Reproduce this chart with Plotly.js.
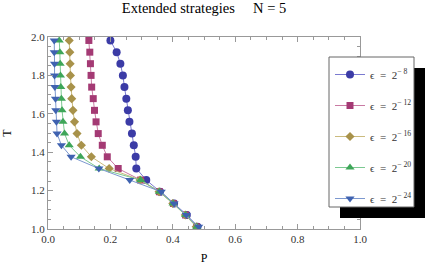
<!DOCTYPE html>
<html><head><meta charset="utf-8">
<script src="https://cdn.plot.ly/plotly-3.0.1.min.js"></script>
<style>html,body{margin:0;padding:0;background:#fff}#c{width:436px;height:273px}</style>
</head><body><div id="c"></div>
<script>
const T = [1.012,1.073,1.133,1.194,1.255,1.315,1.376,1.436,1.497,1.558,1.618,1.679,1.739,1.800,1.861,1.921,1.982];
const p8  = [0.479,0.445,0.404,0.359,0.315,0.283,0.281,0.275,0.269,0.261,0.256,0.251,0.245,0.240,0.232,0.220,0.200];
const p12 = [0.476,0.441,0.402,0.357,0.297,0.225,0.190,0.174,0.161,0.154,0.149,0.145,0.140,0.138,0.136,0.134,0.131];
const p16 = [0.475,0.440,0.400,0.356,0.295,0.196,0.139,0.107,0.093,0.085,0.080,0.076,0.074,0.072,0.071,0.070,0.068];
const p20 = [0.477,0.441,0.401,0.357,0.297,0.164,0.104,0.068,0.053,0.048,0.045,0.043,0.041,0.040,0.039,0.038,0.036];
const p24 = [0.483,0.443,0.404,0.363,0.262,0.163,0.074,0.043,0.029,0.027,0.025,0.024,0.022,0.021,0.021,0.020,0.020];
const exponents = ['8','12','16','20','24'];
const seriesP = [p8,p12,p16,p20,p24];
const markerColors = ['#3b3ba6','#a43a74','#a8924a','#3ea659','#3f62b0'];
const lineColors = ['#7a7ad0','#c97aa3','#cbbb7e','#7cc991','#7c98cf'];
const symbols = ['circle','square','diamond','triangle-up','triangle-down'];
const sizes = [8,7,7,8,8];

const traces = seriesP.map((p,i)=>({
  x:p, y:T, type:'scatter', mode:'lines+markers',
  name:'\u03F5  =  2<sup>\u2212 '+exponents[i]+'</sup>',
  legendgroup:'g'+i,
  line:{color:lineColors[i], width:1},
  marker:{color:markerColors[i], symbol:symbols[i], size:sizes[i], line:{width:0}}
}));

const W=436,H=273,L=48,R=76,Tm=37,B=44;
const pw=W-L-R, ph=H-Tm-B;
const px = v=>(v-L)/pw, py = v=>(H-B-v)/ph;

const axisCommon = {
  showgrid:false, zeroline:false, showline:true, linecolor:'#999', linewidth:1,
  mirror:'ticks', ticks:'inside', ticklen:5, tickcolor:'#999', tickwidth:1,
  tickformat:'.1f', dtick:0.2,
  tickfont:{family:'Liberation Serif', size:11, color:'#333'},
  minor:{ticks:'inside', ticklen:3, tickcolor:'#999', dtick:0.05}
};

const layout = {
  width:W, height:H, margin:{l:L,r:R,t:Tm,b:B},
  paper_bgcolor:'#fff', plot_bgcolor:'#fff',
  title:{text:'Extended strategies     N = 5', xref:'paper', x:0.5, xanchor:'center', yref:'container', y:0.99, yanchor:'top',
         font:{family:'Liberation Serif', size:14.5, color:'#000'}},
  xaxis:Object.assign({}, axisCommon, {range:[0,1], tick0:0,
         title:{text:'P', font:{family:'Liberation Serif', size:12, color:'#000'}, standoff:9}}),
  yaxis:Object.assign({}, axisCommon, {range:[1,2], tick0:1,
         title:{text:'T', font:{family:'Liberation Serif', size:12, color:'#000'}, standoff:16}}),
  showlegend:true,
  legend:{x:px(330), y:py(60), xanchor:'left', yanchor:'top', bgcolor:'rgba(0,0,0,0)', borderwidth:0,
          traceorder:'grouped', tracegroupgap:12,
          font:{family:'Liberation Serif', size:11, color:'#333'}},
  shapes:[
    {type:'rect', xref:'paper', yref:'paper', x0:px(340), x1:px(425), y0:py(218), y1:py(68),
     fillcolor:'#000', line:{width:0}, layer:'above'},
    {type:'rect', xref:'paper', yref:'paper', x0:px(329), x1:px(414), y0:py(207), y1:py(57),
     fillcolor:'#fff', line:{color:'#666', width:1}, layer:'above'}
  ]
};
Plotly.newPlot('c', traces, layout, {staticPlot:true, displayModeBar:false});
</script></body></html>
